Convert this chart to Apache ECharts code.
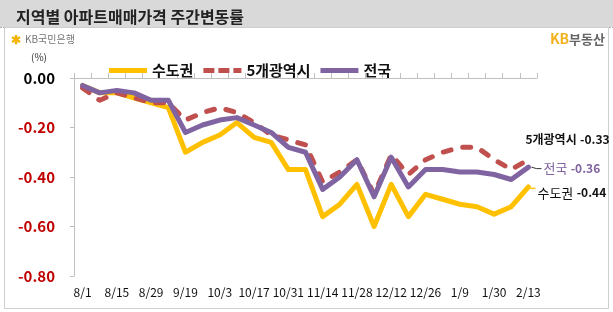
<!DOCTYPE html>
<html><head><meta charset="utf-8">
<script src="https://cdn.jsdelivr.net/npm/echarts@6/dist/echarts.min.js"></script>
<style>html,body{margin:0;padding:0;background:#fff}#c{width:613px;height:312px}</style>
</head><body><div id="c"></div>
<script>
const categories = ['8/1','8/8','8/15','8/22','8/29','9/5','9/19','9/26','10/3','10/10','10/17','10/24','10/31','11/7','11/14','11/21','11/28','12/5','12/12','12/19','12/26','1/2','1/9','1/16','1/30','2/6','2/13'];
const seriesNames = ['수도권','5개광역시','전국'];
const capitalArea = [-0.03,-0.06,-0.06,-0.08,-0.10,-0.12,-0.30,-0.26,-0.23,-0.18,-0.24,-0.26,-0.37,-0.37,-0.56,-0.51,-0.43,-0.60,-0.43,-0.56,-0.47,-0.49,-0.51,-0.52,-0.55,-0.52,-0.44];
const fiveCities = [-0.04,-0.09,-0.06,-0.08,-0.10,-0.10,-0.17,-0.14,-0.12,-0.14,-0.18,-0.23,-0.25,-0.27,-0.42,-0.38,-0.33,-0.47,-0.31,-0.39,-0.33,-0.30,-0.28,-0.28,-0.33,-0.37,-0.33];
const national = [-0.03,-0.06,-0.05,-0.06,-0.09,-0.09,-0.22,-0.19,-0.17,-0.16,-0.19,-0.22,-0.28,-0.30,-0.45,-0.40,-0.33,-0.48,-0.32,-0.44,-0.37,-0.37,-0.38,-0.38,-0.39,-0.41,-0.36];
const yTicks = {min:-0.8, max:0, interval:0.2};

const FONT = '"Noto Sans CJK KR", "Noto Sans", sans-serif';
const COLORS = ['#FFC000','#C0504D','#8064A2'];
const last = categories.length - 1;

const chart = echarts.init(document.getElementById('c'), null, {renderer:'canvas'});
const baseGraphic = [
  {type:'rect', z:-10, shape:{x:0,y:0,width:613,height:27}, style:{fill:'#d9d9d9'}},
  {type:'line', z:-9, shape:{x1:0,y1:27.5,x2:613,y2:27.5}, style:{stroke:'#b0b0b0', lineDash:[2,1], lineWidth:1}},
  {type:'rect', z:-9, shape:{x:4.5,y:27.5,width:604,height:281}, style:{fill:'none', stroke:'#cfcfcf', lineWidth:1}},
  {type:'text', left:11, top:33, style:{text:'✱', fill:'#f5b400', font:'bold 12px '+FONT}},
  {type:'text', left:25, top:34, style:{text:'KB국민은행', fill:'#777', font:'10px '+FONT}},
  {type:'text', right:8, top:32, style:{
    text:'{a|KB}{b|부동산}',
    rich:{a:{fill:'#f3b21c', font:'bold 14px '+FONT}, b:{fill:'#666', font:'bold 13px '+FONT}}}},
  {type:'text', left:31, top:52, style:{text:'(%)', fill:'#333', font:'10px '+FONT}}
];
const lineBase = {type:'line', xAxisIndex:0, symbol:'none'};
chart.setOption({
  animation:false,
  title:{text:'지역별 아파트매매가격 주간변동률', left:11, top:4,
    textStyle:{fontFamily:FONT, fontSize:16, fontWeight:'bold', color:'#222'}},
  graphic:baseGraphic,
  legend:{
    data:[
      {name:seriesNames[0], icon:'path://M0 0H38V5H0Z'},
      {name:seriesNames[1], icon:'path://M0 0H11V5H0Z M15 0H26V5H15Z M30 0H38V5H30Z'},
      {name:seriesNames[2], icon:'path://M0 0H38V5H0Z'}
    ],
    left:104, top:58, itemWidth:38, itemHeight:5, itemGap:10,
    textStyle:{fontFamily:FONT, fontSize:15, fontWeight:'bold', color:'#111'}
  },
  grid:{left:74, right:76, top:78, bottom:36, containLabel:false},
  xAxis:[
    {type:'category', data:categories, position:'top', boundaryGap:true,
      axisLine:{lineStyle:{color:'#bfbfbf', width:1}},
      axisTick:{show:true, interval:0, length:5, lineStyle:{color:'#bfbfbf'}},
      axisLabel:{show:false}, splitLine:{show:false}},
    {type:'category', data:categories, position:'bottom', boundaryGap:true,
      axisLine:{show:false}, axisTick:{show:false},
      axisLabel:{interval:1, margin:10, fontFamily:FONT, fontSize:12, color:'#111'}}
  ],
  yAxis:{type:'value', min:yTicks.min, max:yTicks.max, interval:yTicks.interval,
    axisLine:{show:true, lineStyle:{color:'#bfbfbf'}},
    axisTick:{show:true, length:4, lineStyle:{color:'#bfbfbf'}},
    splitLine:{show:false},
    axisLabel:{margin:19, fontFamily:FONT, fontSize:15, fontWeight:'bold',
      formatter:v=>v.toFixed(2),
      color:v=> Math.abs(v)<1e-9 ? '#000' : '#c00000'}
  },
  series:[
    Object.assign({}, lineBase, {name:seriesNames[0], z:2,
      lineStyle:{color:COLORS[0], width:5, join:'round', cap:'round'}, itemStyle:{color:COLORS[0]},
      data:capitalArea,
      endLabel:{show:true, distance:9, offset:[0,6],
        formatter:p=>'{n|수도권} {v|'+p.value.toFixed(2)+'}',
        rich:{n:{fontFamily:FONT, fontSize:13, color:'#111'}, v:{fontFamily:FONT, fontSize:12, fontWeight:'bold', color:'#111'}}}
    }),
    Object.assign({}, lineBase, {name:seriesNames[1], z:3,
      lineStyle:{color:COLORS[1], width:5, type:[8,12], cap:'round', join:'round'}, itemStyle:{color:COLORS[1]},
      data:fiveCities,
      endLabel:{show:true, distance:0, offset:[-3,-20],
        formatter:p=>'{n|5개광역시} {v|'+p.value.toFixed(2)+'}',
        rich:{n:{fontFamily:FONT, fontSize:12, fontWeight:'bold', color:'#111'}, v:{fontFamily:FONT, fontSize:12, fontWeight:'bold', color:'#111'}}}
    }),
    Object.assign({}, lineBase, {name:seriesNames[2], z:4,
      lineStyle:{color:COLORS[2], width:5, join:'round', cap:'round'}, itemStyle:{color:COLORS[2]},
      data:national,
      endLabel:{show:true, distance:15, offset:[0,1],
        formatter:p=>'{n|전국} {v|'+p.value.toFixed(2)+'}',
        rich:{n:{fontFamily:FONT, fontSize:13, color:COLORS[2]}, v:{fontFamily:FONT, fontSize:12, fontWeight:'bold', color:COLORS[2]}}}
    })
  ]
});
const pN = chart.convertToPixel({xAxisIndex:0, yAxisIndex:0}, [last, national[last]]);
const pC = chart.convertToPixel({xAxisIndex:0, yAxisIndex:0}, [last, capitalArea[last]]);
chart.setOption({graphic: baseGraphic.concat([
  {type:'polyline', z:10, shape:{points:[[pN[0]+3,pN[1]],[pN[0]+8,pN[1]+1.5],[pN[0]+13,pN[1]+1.5]]}, style:{stroke:'#333', lineWidth:1, fill:null}},
  {type:'line', z:10, shape:{x1:pC[0]+2,y1:pC[1]+1.5,x2:pC[0]+7,y2:pC[1]+1.5}, style:{stroke:COLORS[0], lineWidth:1.5}}
])});
</script></body></html>
